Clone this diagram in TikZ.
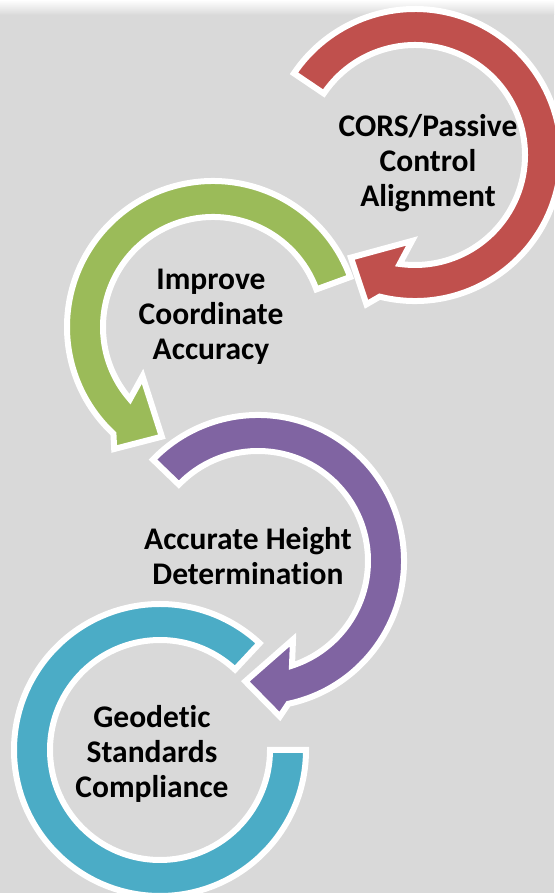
\documentclass[tikz,border=0pt]{standalone}
\usepackage{fontspec}
\setmainfont{Carlito}[Ligatures=NoCommon]
\usepackage{tikz}
\usepackage{xcolor}

\definecolor{bggray}{HTML}{D9D9D9}
\definecolor{ringred}{HTML}{C0504D}
\definecolor{ringgreen}{HTML}{9BBB59}
\definecolor{ringpurple}{HTML}{8064A2}
\definecolor{ringblue}{HTML}{4BACC6}

\tikzset{
  ringband/.style={fill=#1, draw=white, line width=6pt, line join=miter},
  ringtext/.style={align=center, font=\bfseries\fontsize{31.5}{35}\selectfont}
}

\begin{document}
\begin{tikzpicture}[x=1pt,y=1pt]
\useasboundingbox (0,0) rectangle (554,893);
\fill[bggray] (0,0) rectangle (554,893);
\shade[top color=white, bottom color=bggray] (0,878) rectangle (554,893);

% red, clockwise
\begin{scope}[shift={(415,738)}]
\filldraw[ringband=ringred] (146:110) arc[start angle=146, end angle=-98, radius=110]
  -- (-92:86) -- (-122:121) -- (-108:157) -- (-104:146)
  arc[start angle=-104, end angle=146, radius=146] -- cycle;
\end{scope}

% green, counterclockwise
\begin{scope}[shift={(213,566)}]
\filldraw[ringband=ringgreen] (20:110) arc[start angle=20, end angle=221, radius=110]
  -- (215:86) -- (245:121) -- (231:157) -- (227:146)
  arc[start angle=227, end angle=20, radius=146] -- cycle;
\end{scope}

% purple, clockwise
\begin{scope}[shift={(258,332)}]
\filldraw[ringband=ringpurple] (136:110) arc[start angle=136, end angle=-72, radius=110]
  -- (-66:86) -- (-96:121) -- (-82:157) -- (-78:146)
  arc[start angle=-78, end angle=136, radius=146] -- cycle;
\end{scope}

% blue, no head
\begin{scope}[shift={(160,143)}]
\filldraw[ringband=ringblue] (47:110) arc[start angle=47, end angle=360, radius=110]
  -- (0:146) arc[start angle=360, end angle=47, radius=146] -- cycle;
\end{scope}

\node[ringtext] (cors) at (428,730) {CORS/Passive\\Control\\Alignment};
\node[ringtext] (improve) at (211,576) {Improve\\Coordinate\\Accuracy};
\node[ringtext] (height) at (248,337) {Accurate Height\\Determination};
\node[ringtext] (geodetic) at (152,139) {Geodetic\\Standards\\Compliance};

\end{tikzpicture}
\end{document}
